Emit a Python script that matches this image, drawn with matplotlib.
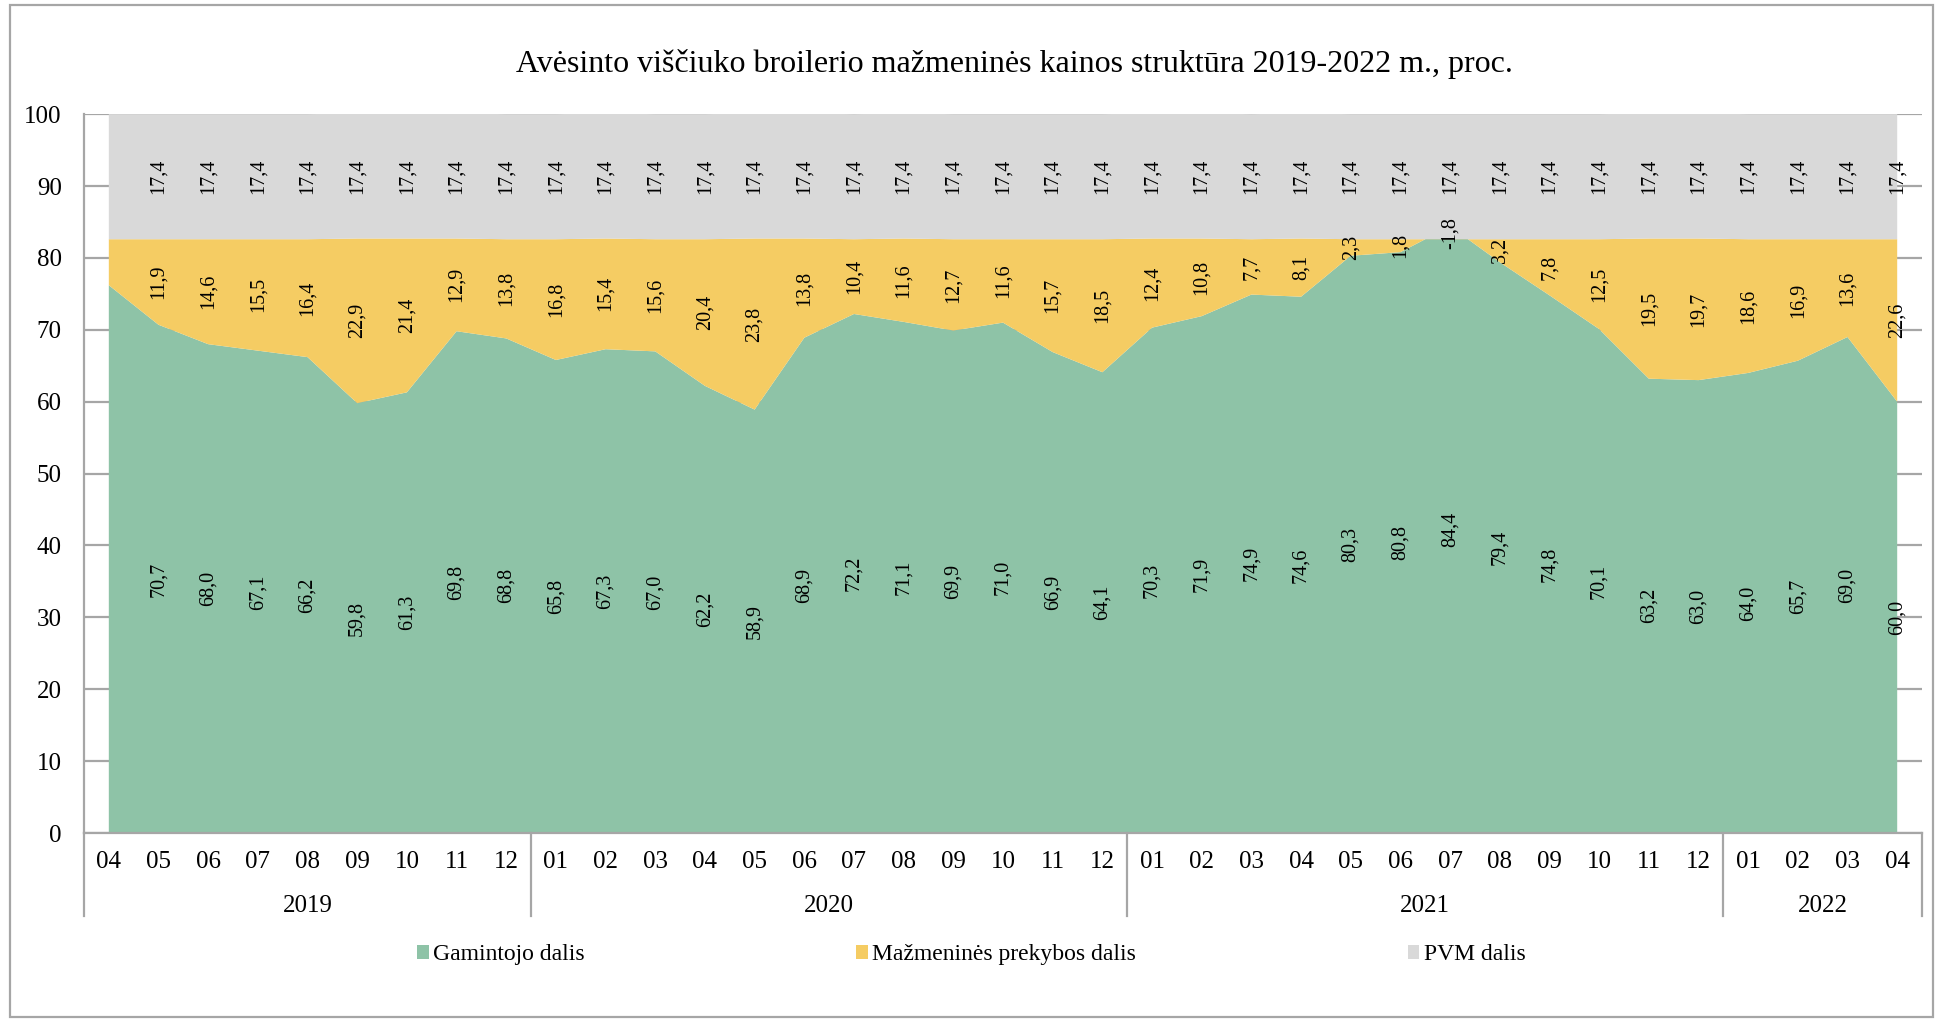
import matplotlib
matplotlib.use('Agg')
import matplotlib.pyplot as plt
from matplotlib.patches import Rectangle
import matplotlib.transforms as mtransforms

plt.rcParams['font.family'] = ['Liberation Serif', 'DejaVu Serif']

# Data (percent of retail price)
months = ['04', '05', '06', '07', '08', '09', '10', '11', '12',
          '01', '02', '03', '04', '05', '06', '07', '08', '09', '10', '11', '12',
          '01', '02', '03', '04', '05', '06', '07', '08', '09', '10', '11', '12',
          '01', '02', '03', '04']
years = ['2019', '2020', '2021', '2022']
year_counts = [9, 12, 12, 4]

gamintojo = [76.2, 70.7, 68.0, 67.1, 66.2, 59.8, 61.3, 69.8, 68.8,
             65.8, 67.3, 67.0, 62.2, 58.9, 68.9, 72.2, 71.1, 69.9, 71.0, 66.9, 64.1,
             70.3, 71.9, 74.9, 74.6, 80.3, 80.8, 84.4, 79.4, 74.8, 70.1, 63.2, 63.0,
             64.0, 65.7, 69.0, 60.0]
mazmenines = [6.4, 11.9, 14.6, 15.5, 16.4, 22.9, 21.4, 12.9, 13.8,
              16.8, 15.4, 15.6, 20.4, 23.8, 13.8, 10.4, 11.6, 12.7, 11.6, 15.7, 18.5,
              12.4, 10.8, 7.7, 8.1, 2.3, 1.8, -1.8, 3.2, 7.8, 12.5, 19.5, 19.7,
              18.6, 16.9, 13.6, 22.6]
pvm = [17.4] * 37
# the first month has no data labels in the source chart
labelled = [False] + [True] * 36

series_names = ['Gamintojo dalis', 'Mažmeninės prekybos dalis', 'PVM dalis']
colors = ['#8EC3A7', '#F5CC63', '#D9D9D9']

x = list(range(len(months)))

fig = plt.figure(figsize=(19.35, 10.19), dpi=100)
ax = fig.add_axes([0.0434, 0.1825, 0.9499, 0.7055])

ax.stackplot(x, gamintojo, mazmenines, pvm, colors=colors, labels=series_names, zorder=2)

ax.set_xlim(-0.5, len(months) - 0.5)
ax.set_ylim(0, 100)
ax.set_yticks(range(0, 101, 10))
ax.yaxis.grid(True, color='#A6A6A6', linewidth=1.6, zorder=0)
ax.set_axisbelow(True)
for s in ['top', 'right']:
    ax.spines[s].set_visible(False)
for s in ['left', 'bottom']:
    ax.spines[s].set_color('#A6A6A6')
    ax.spines[s].set_linewidth(1.6)
ax.tick_params(axis='y', length=0, pad=16, labelsize=18)
ax.set_xticks(x)
ax.set_xticklabels(months)
ax.tick_params(axis='x', length=0, pad=13, labelsize=18)

# data labels centred in each band
for i in x:
    if not labelled[i]:
        continue
    g, m, p = gamintojo[i], mazmenines[i], pvm[i]
    for val, ctr in [(g, g / 2), (m, g + m / 2), (p, g + m + p / 2)]:
        ax.text(i, ctr, f'{val:.1f}'.replace('.', ','), rotation=90,
                ha='center', va='center', fontsize=14.5, zorder=5)

# year grouping under the month labels
trans = mtransforms.blended_transform_factory(ax.transData, ax.transAxes)
start = 0
bounds = [-0.5]
for yr, n in zip(years, year_counts):
    ax.text(start + (n - 1) / 2, -0.101, yr, transform=trans,
            ha='center', va='center', fontsize=18)
    start += n
    bounds.append(start - 0.5)
for b in bounds:
    ax.plot([b, b], [0, -0.116], transform=trans, color='#A6A6A6',
            linewidth=1.6, clip_on=False)

fig.text(0.524, 0.937, 'Avėsinto viščiuko broilerio mažmeninės kainos struktūra 2019-2022 m., proc.',
         ha='center', va='center', fontsize=23)

# legend
handles, labels = ax.get_legend_handles_labels()
fig.legend(handles, labels, loc='center', bbox_to_anchor=(0.502, 0.063), ncol=3,
           frameon=False, fontsize=17, handlelength=0.47, handleheight=0.55,
           handletextpad=0.2, columnspacing=11.5)

# outer frame
fig.patches.append(Rectangle((0.005, 0.002), 0.994, 0.993, transform=fig.transFigure,
                             fill=False, edgecolor='#A6A6A6', linewidth=1.6))

fig.savefig('out.png', dpi=100)
